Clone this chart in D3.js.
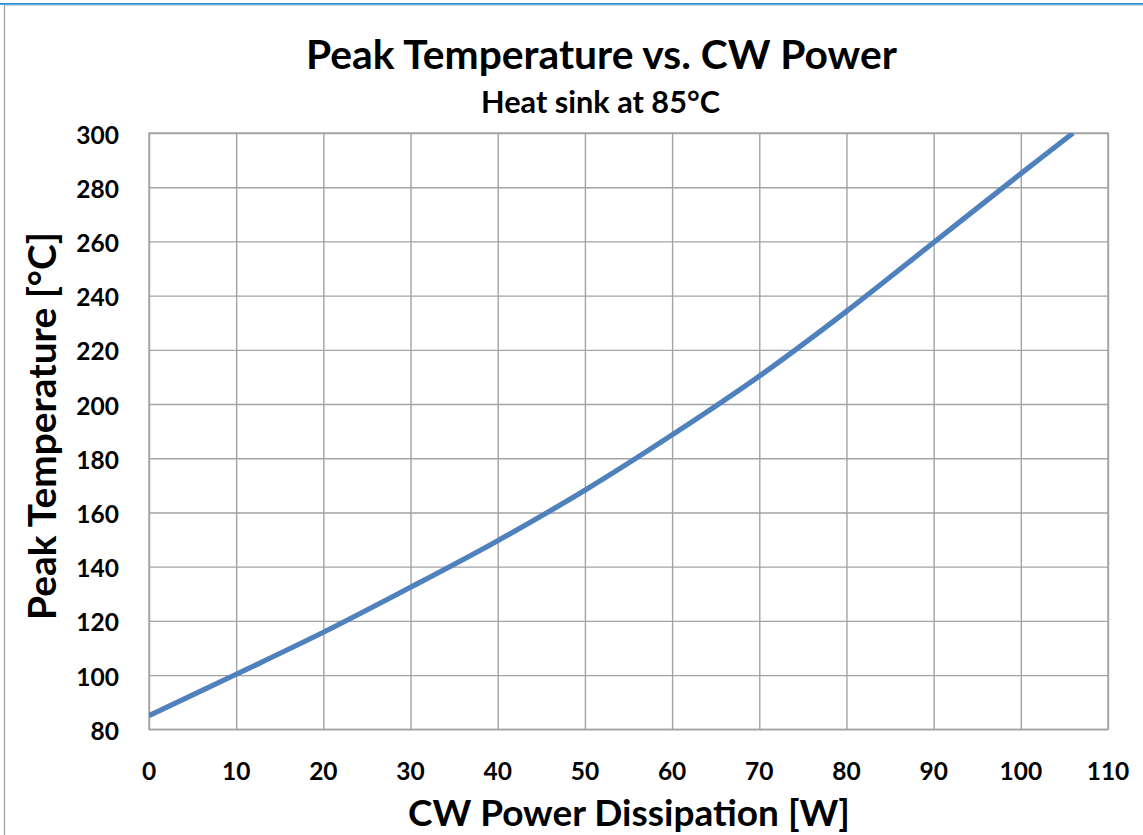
<!DOCTYPE html>
<html>
<head>
<meta charset="utf-8">
<script src="https://cdn.jsdelivr.net/npm/d3@7"></script>
<style>
  html, body { margin: 0; padding: 0; background: #ffffff; }
  svg { display: block; }
  text { font-family: Lato, "Open Sans", "DejaVu Sans", sans-serif; font-weight: 700; fill: #000; }
</style>
</head>
<body>
<script>
// Peak temperature (°C) against CW power dissipation (W), heat sink held at 85 °C
const powerW = [0, 10, 20, 30, 40, 50, 60, 70, 80, 90, 100, 106];
const peakTempC = [85, 100.3, 115.8, 132.4, 149.6, 168.2, 188.6, 210.3, 234.2, 259.6, 285.0, 300.0];

const xTicks = [0, 10, 20, 30, 40, 50, 60, 70, 80, 90, 100, 110];
const yTicks = [80, 100, 120, 140, 160, 180, 200, 220, 240, 260, 280, 300];

const titleText = "Peak Temperature vs. CW Power";
const subtitleText = "Heat sink at 85°C";
const xLabelText = "CW Power Dissipation [W]";
const yLabelText = "Peak Temperature [°C]";

const W = 1143, H = 835;
const plot = { left: 149, right: 1108, top: 133, bottom: 729.3 };
const gridColor = "#a3a3a3";

const svg = d3.select("body").append("svg")
  .attr("width", W).attr("height", H);

// window frame: blue strip on top, thin gray borders
svg.append("rect").attr("x", 0).attr("y", 3).attr("width", W).attr("height", 1.8).attr("fill", "#1f8fdc");
svg.append("line").attr("x1", 4.5).attr("x2", W).attr("y1", 5.3).attr("y2", 5.3)
  .attr("stroke", "#c8c8c8").attr("stroke-width", 1);
svg.append("line").attr("x1", 4.5).attr("x2", 4.5).attr("y1", 5).attr("y2", H)
  .attr("stroke", "#a0a0a0").attr("stroke-width", 1.2);

const x = d3.scaleLinear().domain([0, 110]).range([plot.left, plot.right]);
const y = d3.scaleLinear().domain([80, 300]).range([plot.bottom, plot.top]);

// gridlines
const gx = svg.append("g")
  .attr("transform", `translate(0,${plot.bottom})`)
  .call(d3.axisBottom(x).tickValues(xTicks).tickSize(-(plot.bottom - plot.top)).tickFormat(""));
const gy = svg.append("g")
  .attr("transform", `translate(${plot.left},0)`)
  .call(d3.axisLeft(y).tickValues(yTicks).tickSize(-(plot.right - plot.left)).tickFormat(""));
[gx, gy].forEach(g => {
  g.select(".domain").remove();
  g.selectAll(".tick line").attr("stroke", gridColor).attr("stroke-width", 1.4);
});
svg.append("rect")
  .attr("x", plot.left).attr("y", plot.top)
  .attr("width", plot.right - plot.left).attr("height", plot.bottom - plot.top)
  .attr("fill", "none").attr("stroke", gridColor).attr("stroke-width", 1.4);

// tick labels
svg.append("g").selectAll("text").data(xTicks).join("text")
  .attr("x", d => x(d)).attr("y", 779.5)
  .attr("text-anchor", "middle").attr("font-size", 24.5)
  .text(d => d);
svg.append("g").selectAll("text").data(yTicks).join("text")
  .attr("x", 119).attr("y", d => y(d) + 10.5)
  .attr("text-anchor", "end").attr("font-size", 24.5)
  .text(d => d);

// curve
svg.append("clipPath").attr("id", "plotClip")
  .append("rect")
  .attr("x", plot.left).attr("y", plot.top)
  .attr("width", plot.right - plot.left).attr("height", plot.bottom - plot.top);

const series = powerW.map((p, i) => ({ p, t: peakTempC[i] }));
const line = d3.line()
  .x(d => x(d.p)).y(d => y(d.t))
  .curve(d3.curveCatmullRom.alpha(0.5));
svg.append("path")
  .datum(series)
  .attr("clip-path", "url(#plotClip)")
  .attr("fill", "none")
  .attr("stroke", "#4f81bd")
  .attr("stroke-width", 5.2)
  .attr("stroke-linejoin", "round")
  .attr("d", line);

// scale a text element's font so it spans the given width
function fitWidth(sel, width) {
  const node = sel.node();
  const fs = parseFloat(sel.attr("font-size"));
  const len = node.getComputedTextLength();
  sel.attr("font-size", fs * width / len);
}

// titles
const title = svg.append("text")
  .attr("x", 601.5).attr("y", 68.5)
  .attr("text-anchor", "middle").attr("font-size", 36)
  .text(titleText);
fitWidth(title, 591);

const subtitle = svg.append("text")
  .attr("x", 600.5).attr("y", 112.5)
  .attr("text-anchor", "middle").attr("font-size", 23)
  .text(subtitleText);
fitWidth(subtitle, 239);

const xLabel = svg.append("text")
  .attr("x", 629).attr("y", 826)
  .attr("text-anchor", "middle").attr("font-size", 33)
  .text(xLabelText);
fitWidth(xLabel, 442);

const yLabel = svg.append("text")
  .attr("transform", "translate(55.5,426) rotate(-90)")
  .attr("text-anchor", "middle").attr("font-size", 33)
  .text(yLabelText);
fitWidth(yLabel, 388);
</script>
</body>
</html>
